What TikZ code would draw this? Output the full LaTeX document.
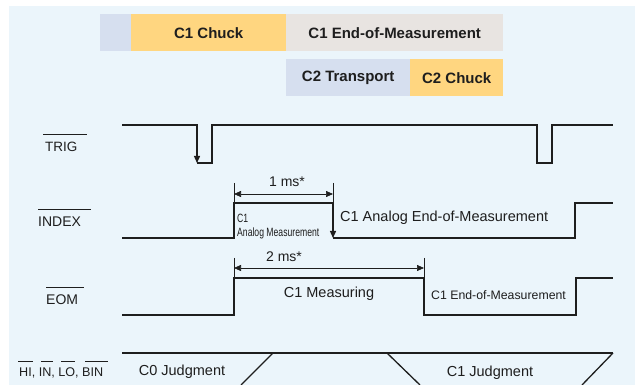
\documentclass[tikz,border=0pt]{standalone}
\usepackage{fontspec}
\setmainfont{Liberation Sans}
\usepackage{graphicx}
\usetikzlibrary{arrows.meta, positioning, calc}
\definecolor{bgblue}{RGB}{235, 245, 251}
\definecolor{phaseblue}{RGB}{214, 223, 239}
\definecolor{phaseyellow}{RGB}{255, 214, 128}
\definecolor{phasegrey}{RGB}{232, 228, 225}
\definecolor{inkgrey}{RGB}{30, 30, 30}

\begin{document}
\begin{tikzpicture}[x=1pt, y=-1pt,
  phase/.style={minimum height=37pt, inner sep=0pt, anchor=north west, text=inkgrey, font=\fontsize{15}{18}\selectfont\bfseries},
  wave/.style={line width=1.3pt, inkgrey},
  tip/.style={-{Triangle[length=7pt, width=6pt]}},
  lbl/.style={inner sep=0pt, anchor=west, text=inkgrey},
  bar/.style={line width=0.7pt, inkgrey}]
  \useasboundingbox (0, 0) rectangle (638, 385);
  \fill[white] (0, 0) rectangle (638, 385);
  \fill[bgblue] (9, 6) rectangle (635, 385);

  % Phase bars
  \node[phase, fill=phaseblue, minimum width=31pt] (lead) at (100, 14) {};
  \node[phase, fill=phaseyellow, minimum width=155pt] (chuckA) at (131, 14) {C1 Chuck};
  \node[phase, fill=phasegrey, minimum width=217pt] (eomA) at (286, 14) {C1 End-of-Measurement};
  \node[phase, fill=phaseblue, minimum width=124pt] (transB) at (286, 59) {C2 Transport};
  \node[phase, fill=phaseyellow, minimum width=93pt] (chuckB) at (410, 59) {C2 Chuck};

  % Signal names
  \node[lbl, font=\fontsize{13.5}{16}\selectfont] (trig) at (45, 147) {TRIG};
  \node[lbl, font=\fontsize{14}{16}\selectfont] (index) at (38, 222) {INDEX};
  \node[lbl, font=\fontsize{14}{16}\selectfont] (eom) at (46, 300) {EOM};
  \node[lbl, font=\fontsize{12.6}{15}\selectfont] (judge) at (19, 373) {HI, IN, LO, BIN};
  \draw[bar] (43, 134) -- (87, 134);
  \draw[bar] (38, 209) -- (91, 209);
  \draw[bar] (46, 287) -- (84, 287);
  \foreach \a/\b in {18/33, 41/53, 61/75, 85/108}
    \draw[bar] (\a, 361) -- (\b, 361);

  % TRIG
  \draw[wave, tip] (122, 125) -| (197, 163);
  \draw[wave] (197, 163) -| (212, 125) -| (537, 163) -| (552, 125) -- (613, 125);

  % INDEX
  \draw[wave] (122, 238) -| (234, 203) -- (333, 203);
  \draw[wave, tip] (333, 203) -- (333, 238);
  \draw[wave] (333, 238) -| (575, 203) -- (613, 203);
  \node[lbl, font=\fontsize{12}{14}\selectfont] (cone) at (237, 218) {\scalebox{0.72}[1]{C1}};
  \node[lbl, font=\fontsize{12}{14}\selectfont] (anameas) at (237, 233) {\scalebox{0.72}[1]{Analog Measurement}};
  \node[lbl, font=\fontsize{14.5}{17}\selectfont] (anaeom) at (340, 218) {C1 Analog End-of-Measurement};

  % 1 ms
  \coordinate (dimA) at (234, 194);
  \coordinate (dimB) at (333, 194);
  \draw[bar] (234, 183) -- (234, 203);
  \draw[bar] (333, 183) -- (333, 203);
  \draw[bar, {Triangle[length=7pt, width=6pt]}-{Triangle[length=7pt, width=6pt]}] (dimA) -- (dimB);
  \node[font=\fontsize{14}{16}\selectfont, text=inkgrey, inner sep=0pt] (onems) at (287, 182) {1 ms*};

  % EOM
  \draw[wave] (122, 315) -| (234, 278) -| (424, 315) -| (576, 278) -- (613, 278);
  \node[font=\fontsize{14.5}{17}\selectfont, text=inkgrey, inner sep=0pt] (meas) at (329, 294) {C1 Measuring};
  \node[lbl, font=\fontsize{12.3}{15}\selectfont] (eomtxt) at (431, 295) {C1 End-of-Measurement};

  % 2 ms
  \coordinate (dimC) at (234, 268);
  \coordinate (dimD) at (424, 268);
  \draw[bar] (234, 258) -- (234, 278);
  \draw[bar] (424, 258) -- (424, 278);
  \draw[bar, {Triangle[length=7pt, width=6pt]}-{Triangle[length=7pt, width=6pt]}] (dimC) -- (dimD);
  \node[font=\fontsize{14}{16}\selectfont, text=inkgrey, inner sep=0pt] (twoms) at (284, 257) {2 ms*};

  % Judgment outputs
  \draw[wave] (122, 353) -- (613, 353);
  \draw[wave] (273, 353) -- (241, 385);
  \draw[wave] (387, 353) -- (420, 385);
  \draw[wave] (613, 353) -- (582, 385);
  \node[font=\fontsize{14.5}{17}\selectfont, text=inkgrey, inner sep=0pt] (jzero) at (182, 372) {C0 Judgment};
  \node[font=\fontsize{14.5}{17}\selectfont, text=inkgrey, inner sep=0pt] (jone) at (490, 373) {C1 Judgment};
\end{tikzpicture}
\end{document}
